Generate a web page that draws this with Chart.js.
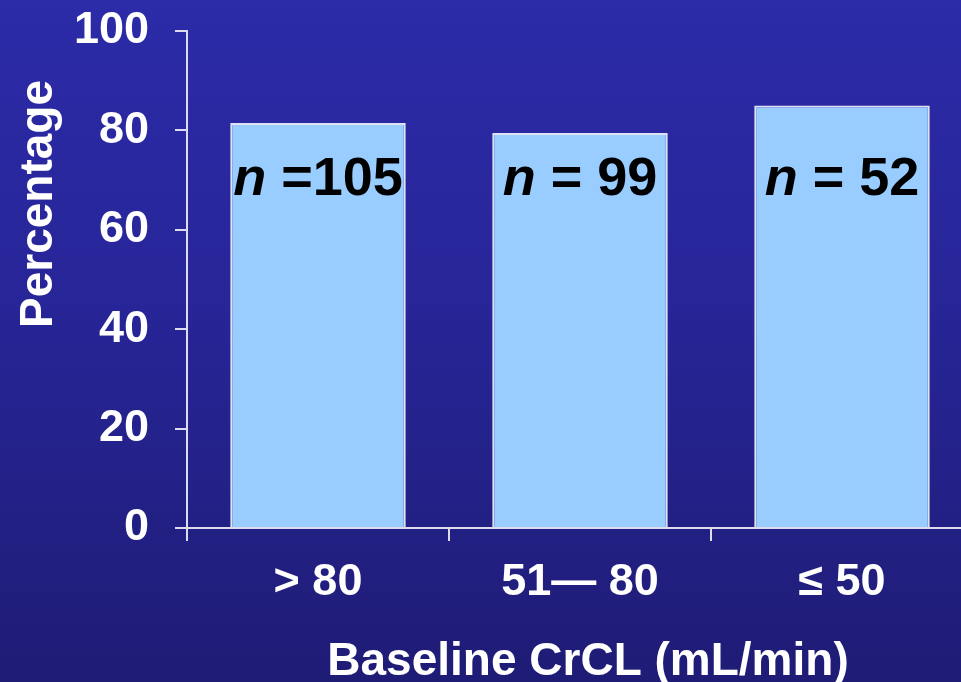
<!DOCTYPE html>
<html>
<head>
<meta charset="utf-8">
<script src="https://cdn.jsdelivr.net/npm/chart.js@4/dist/chart.umd.min.js"></script>
<style>
  html, body { margin: 0; padding: 0; overflow: hidden; width: 961px; height: 682px; }
  body { background: linear-gradient(to bottom, #2c2ba8 0%, #272597 45%, #1f1c76 100%); }
  #wrap { position: absolute; left: 0; top: 0; width: 990px; height: 682px; }
</style>
</head>
<body>
<div id="wrap"><canvas id="chart" width="990" height="682"></canvas></div>
<script>
// Share of patients per baseline creatinine-clearance group
const categories = ['> 80', '51\u2014 80', '\u2264 50'];
const percentages = [81.5, 79.5, 85];
const groupSizes = ['=105', '= 99', '= 52'];
const yTicks = [0, 20, 40, 60, 80, 100];

const xTitle = 'Baseline CrCL (mL/min)';
const yTitle = 'Percentage';

const axisColor = '#dcdcee';
const tickFont = { family: 'Liberation Sans, Arial, sans-serif', size: 45, weight: 'bold' };

// Axis titles and the "n =" labels inside each bar
const annotations = {
  id: 'annotations',
  afterDraw(chart) {
    const ctx = chart.ctx;
    const y = chart.scales.y;
    ctx.save();
    ctx.fillStyle = '#ffffff';
    ctx.font = 'bold 46px "Liberation Sans", Arial, sans-serif';
    ctx.textAlign = 'center';
    ctx.textBaseline = 'alphabetic';
    ctx.fillText(xTitle, 588, 675);
    ctx.save();
    ctx.translate(52, 204);
    ctx.rotate(-Math.PI / 2);
    ctx.fillText(yTitle, 0, 0);
    ctx.restore();

    ctx.fillStyle = '#000000';
    const baseY = y.getPixelForValue(67);
    const meta = chart.getDatasetMeta(0);
    meta.data.forEach((bar, i) => {
      const italic = 'italic bold 54px "Liberation Sans", Arial, sans-serif';
      const normal = 'bold 54px "Liberation Sans", Arial, sans-serif';
      const first = 'n', rest = ' ' + groupSizes[i];
      ctx.font = italic; const w1 = ctx.measureText(first).width;
      ctx.font = normal; const w2 = ctx.measureText(rest).width;
      const sx = bar.x - (w1 + w2) / 2;
      ctx.textAlign = 'left';
      ctx.font = italic; ctx.fillText(first, sx, baseY);
      ctx.font = normal; ctx.fillText(rest, sx + w1, baseY);
    });
    ctx.restore();
  }
};

new Chart(document.getElementById('chart'), {
  type: 'bar',
  data: {
    labels: categories,
    datasets: [{
      data: percentages,
      backgroundColor: '#99ccff',
      borderColor: '#dfe2f2',
      borderWidth: 2,
      borderSkipped: 'bottom',
      categoryPercentage: 0.67,
      barPercentage: 1.0
    }]
  },
  options: {
    responsive: false,
    animation: false,
    events: [],
    layout: { padding: { left: 0, top: 31, right: 17, bottom: 0 } },
    plugins: { legend: { display: false }, tooltip: { enabled: false } },
    scales: {
      x: {
        offset: true,
        grid: { display: true, offset: true, drawOnChartArea: false, color: axisColor, lineWidth: 2, tickLength: 13 },
        border: { display: true, color: axisColor, width: 2 },
        ticks: { color: '#ffffff', font: tickFont, padding: 15 },
        afterFit(scale) { scale.height = 154; scale.paddingLeft = 0; scale.paddingRight = 0; }
      },
      y: {
        min: 0, max: 100,
        afterBuildTicks(scale) { scale.ticks = yTicks.map(v => ({ value: v })); },
        grid: { display: true, drawOnChartArea: false, color: axisColor, lineWidth: 2, tickLength: 12 },
        border: { display: true, color: axisColor, width: 2 },
        ticks: { color: '#ffffff', font: tickFont, padding: 26 },
        afterFit(scale) { scale.width = 187; scale.paddingTop = 0; scale.paddingBottom = 0; }
      }
    }
  },
  plugins: [annotations]
});
</script>
</body>
</html>
